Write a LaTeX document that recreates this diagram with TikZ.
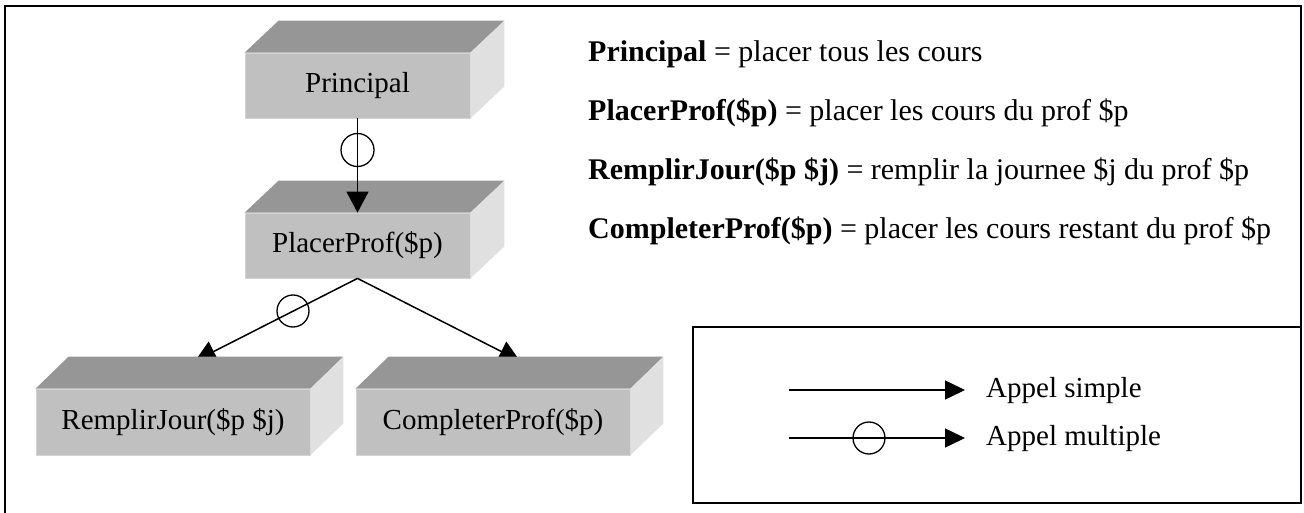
\documentclass[tikz,border=0pt]{standalone}
\usepackage{fontspec}
\setmainfont{Liberation Serif}
\usetikzlibrary{arrows.meta,calc}
\definecolor{frontgray}{HTML}{C0C0C0}
\definecolor{topgray}{HTML}{969696}
\definecolor{sidegray}{HTML}{E0E0E0}
\tikzset{
  front/.style={fill=frontgray, draw=frontgray!70!white, line width=0.8pt, inner sep=0pt, font=\fontsize{29}{34}\selectfont},
  conn/.style={line width=1.5pt, -{Triangle[length=21pt,width=22pt]}},
  multi/.style={draw, line width=1.3pt, circle, minimum size=33pt, inner sep=0pt},
  frameline/.style={line width=2pt},
  legendbox/.style={draw, line width=1.5pt},
  desc/.style={anchor=base west, inner sep=0pt, font=\fontsize{30}{35}\selectfont},
  legtext/.style={anchor=base west, inner sep=0pt, font=\fontsize{29}{34}\selectfont},
}
\newcommand{\cubefaces}[3]{%
  \fill[topgray] (#1.north west) -- ++(#2,-#3) -- ($(#1.north east)+(#2,-#3)$) -- (#1.north east) -- cycle;
  \fill[sidegray] (#1.north east) -- ++(#2,-#3) -- ($(#1.south east)+(#2,-#3)$) -- (#1.south east) -- cycle;
}
\begin{document}
\begin{tikzpicture}[x=1pt,y=-1pt]
\useasboundingbox (0,0) rectangle (1304,513);
% outer frame
\draw[frameline] (5,515) -- (5,6) -- (1301,6) -- (1301,327);
% legend box
\node[legendbox, minimum width=608pt, minimum height=176pt, inner sep=0pt] (legend) at (997,415) {};
% top boxes
\node[front, minimum width=225pt, minimum height=65pt] (principal) at (357.5,85.5) {Principal};
\cubefaces{principal}{34}{32}
\node[front, minimum width=225pt, minimum height=65pt] (placer) at (357.5,245.5) {PlacerProf(\$p)};
\cubefaces{placer}{34}{32}
% vertical connector
\draw[conn] (principal.south) -- (placer.north);
\node[multi] (c1) at (357.5,150) {};
% lower connectors (partly hidden by boxes)
\coordinate (rjtip) at (195,361);
\coordinate (cptip) at (520,361);
\draw[conn] (placer.south) -- (rjtip);
\draw[conn] (placer.south) -- (cptip);
\node[multi, minimum size=32pt] (c2) at (293,311) {};
% lower boxes
\node[front, minimum width=274pt, minimum height=66pt] (remplir) at (173,422) {RemplirJour(\$p \$j)};
\cubefaces{remplir}{33}{32}
\node[front, minimum width=274pt, minimum height=66pt] (completer) at (493,422) {CompleterProf(\$p)};
\cubefaces{completer}{33}{32}
% descriptions
\node[desc] (d1) at (588,62) {\textbf{Principal} = placer tous les cours};
\node[desc] (d2) at (588,121) {\textbf{PlacerProf(\$p)} = placer les cours du prof \$p};
\node[desc] (d3) at (588,180) {\textbf{RemplirJour(\$p \$j)} = remplir la journee \$j du prof \$p};
\node[desc] (d4) at (588,239) {\textbf{CompleterProf(\$p)} = placer les cours restant du prof \$p};
% legend content
\coordinate (l1a) at (789,390);
\coordinate (l1b) at (965,390);
\coordinate (l2a) at (789,438);
\coordinate (l2b) at (965,438);
\draw[conn, -{Triangle[length=20pt,width=19pt]}] (l1a) -- (l1b);
\draw[conn, -{Triangle[length=20pt,width=19pt]}] (l2a) -- (l2b);
\node[multi, minimum size=32pt] (c3) at (869,438) {};
\node[legtext] (t1) at (986,397) {Appel simple};
\node[legtext] (t2) at (986,445) {Appel multiple};
\end{tikzpicture}
\end{document}
